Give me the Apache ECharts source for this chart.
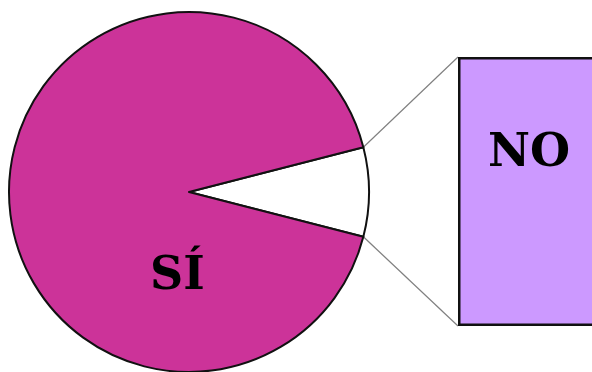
<!DOCTYPE html>
<html>
<head>
<meta charset="utf-8">
<script src="https://cdn.jsdelivr.net/npm/echarts@6/dist/echarts.min.js"></script>
<style>
  html, body { margin: 0; padding: 0; background: #fff; }
  #chart { width: 592px; height: 372px; }
</style>
</head>
<body>
<div id="chart"></div>
<script>
  // porcentajes de la encuesta
  const categories = ['NO', 'SÍ'];
  const values = [8, 92];
  const pieColors = ['#ffffff', '#cc3399'];
  // la barra solo desglosa el NO
  const barCategories = ['NO'];
  const barValues = [8];

  const centerX = 189, centerY = 192, radius = 180;
  const total = values.reduce((a, b) => a + b, 0);
  const startAngle = values[0] / total * 360 / 2;

  let chart = echarts.init(document.getElementById('chart'), null, { renderer: 'canvas' });

  chart.setOption({
    animation: false,
    grid: { left: 458, top: 57, width: 268, height: 269, outerBoundsMode: 'none', containLabel: false },
    xAxis: { type: 'category', data: barCategories, show: false },
    yAxis: { type: 'value', min: 0, max: barValues[0], show: false },
    series: [{
      type: 'pie',
      center: [centerX, centerY],
      radius: radius,
      startAngle: startAngle,
      clockwise: true,
      label: { show: false },
      labelLine: { show: false },
      data: categories.map((c, i) => ({
        name: c,
        value: values[i],
        itemStyle: { color: pieColors[i], borderColor: '#111', borderWidth: 2 }
      }))
    }, {
      type: 'bar',
      barWidth: '100%',
      data: barValues,
      itemStyle: {
        color: '#cc99ff', borderColor: '#111', borderWidth: 2.5
      },
      label: {
        show: true,
        position: [30, 97],
        align: 'left',
        verticalAlign: 'middle',
        formatter: () => barCategories[0],
        fontFamily: 'DejaVu Serif',
        fontWeight: 'bold',
        fontSize: 46,
        color: '#000'
      }
    }]
  });

  // lineas de union entre el sector NO y la barra
  const a1 = startAngle * Math.PI / 180;
  const a2 = -startAngle * Math.PI / 180;
  const p1 = [centerX + radius * Math.cos(a1), centerY - radius * Math.sin(a1)];
  const p2 = [centerX + radius * Math.cos(a2), centerY - radius * Math.sin(a2)];
  const barTop = chart.convertToPixel({ yAxisIndex: 0 }, barValues[0]);
  const barBottom = chart.convertToPixel({ yAxisIndex: 0 }, 0);
  const barLeft = 458;

  chart.setOption({
    graphic: [
      { type: 'line', z: 1, shape: { x1: p1[0], y1: p1[1], x2: barLeft, y2: barTop }, style: { stroke: '#808080', lineWidth: 1.2 } },
      { type: 'line', z: 1, shape: { x1: p2[0], y1: p2[1], x2: barLeft, y2: barBottom }, style: { stroke: '#808080', lineWidth: 1.2 } },
      {
        type: 'text', z: 100, x: 150, y: 277,
        style: {
          text: categories[1], font: 'bold 46px "DejaVu Serif"', fill: '#000',
          textAlign: 'left', textVerticalAlign: 'middle'
        }
      }
    ]
  });
</script>
</body>
</html>
